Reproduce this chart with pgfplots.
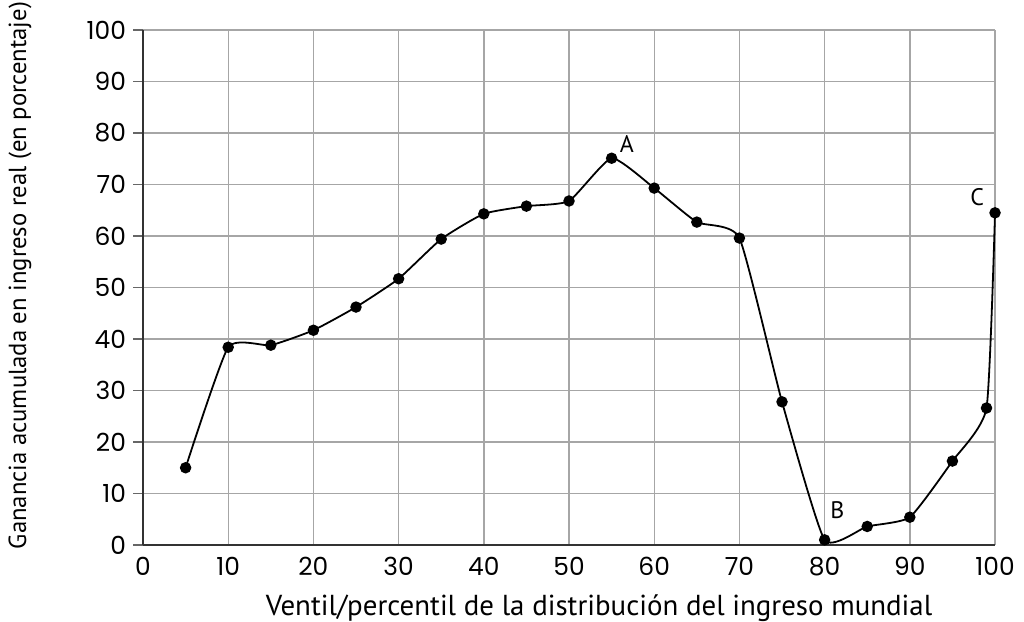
\documentclass[border=0pt]{standalone}
\usepackage{fontspec}
\setmainfont{PT Sans}
\newfontfamily\tickfont{Poppins}
\usepackage{pgfplots}
\pgfplotsset{compat=1.18}
\begin{document}
\begin{tikzpicture}[x=1bp,y=1bp]
\useasboundingbox (0,0) rectangle (512,310.5);
\begin{axis}[
    at={(71.5bp,38bp)}, anchor=south west,
    width=426bp, height=257.5bp, scale only axis,
    xmin=0, xmax=100, ymin=0, ymax=100,
    xtick={0,10,...,100}, ytick={0,10,...,100},
    axis lines=left, axis line style={-, black!80, line width=0.8pt},
    grid=major, grid style={black!35, line width=0.7pt},
    tick style={black!60, line width=0.6pt},
    xtick style={draw=none},
    ytick align=outside, major tick length=5bp,
    tick label style={font=\tickfont\fontsize{12.5}{14}\selectfont},
    /pgf/number format/assume math mode=true,
    xlabel={Ventil/percentil de la distribución del ingreso mundial},
    ylabel={Ganancia acumulada en ingreso real (en porcentaje)},
    xlabel style={font=\fontsize{14.5}{16}\selectfont, at={(axis description cs:0.5,0)},
        anchor=center, yshift=-31.5bp, xshift=15bp},
    ylabel style={font=\fontsize{12.4}{14}\selectfont, at={(axis description cs:0,0.5)},
        anchor=center, yshift=61.5bp, xshift=6bp},
    clip=false,
]
\addplot[black, line width=0.9pt, smooth, tension=0.3,
    mark=*, mark size=2.4bp, mark options={fill=black}]
coordinates {
(5,15) (10,38.4) (15,38.8) (20,41.7) (25,46.2) (30,51.7) (35,59.4)
(40,64.3) (45,65.8) (50,66.8) (55,75.1) (60,69.3) (65,62.7) (70,59.6)
(75,27.8) (80,1) (85,3.6) (90,5.4) (95,16.3) (99,26.6) (100,64.5)
};
\node[font=\fontsize{12}{13}\selectfont] at (axis cs:56.8,77.8) {A};
\node[font=\fontsize{12}{13}\selectfont] at (axis cs:81.5,6.8) {B};
\node[font=\fontsize{12}{13}\selectfont] at (axis cs:97.9,67.5) {C};
\end{axis}
\end{tikzpicture}
\end{document}
